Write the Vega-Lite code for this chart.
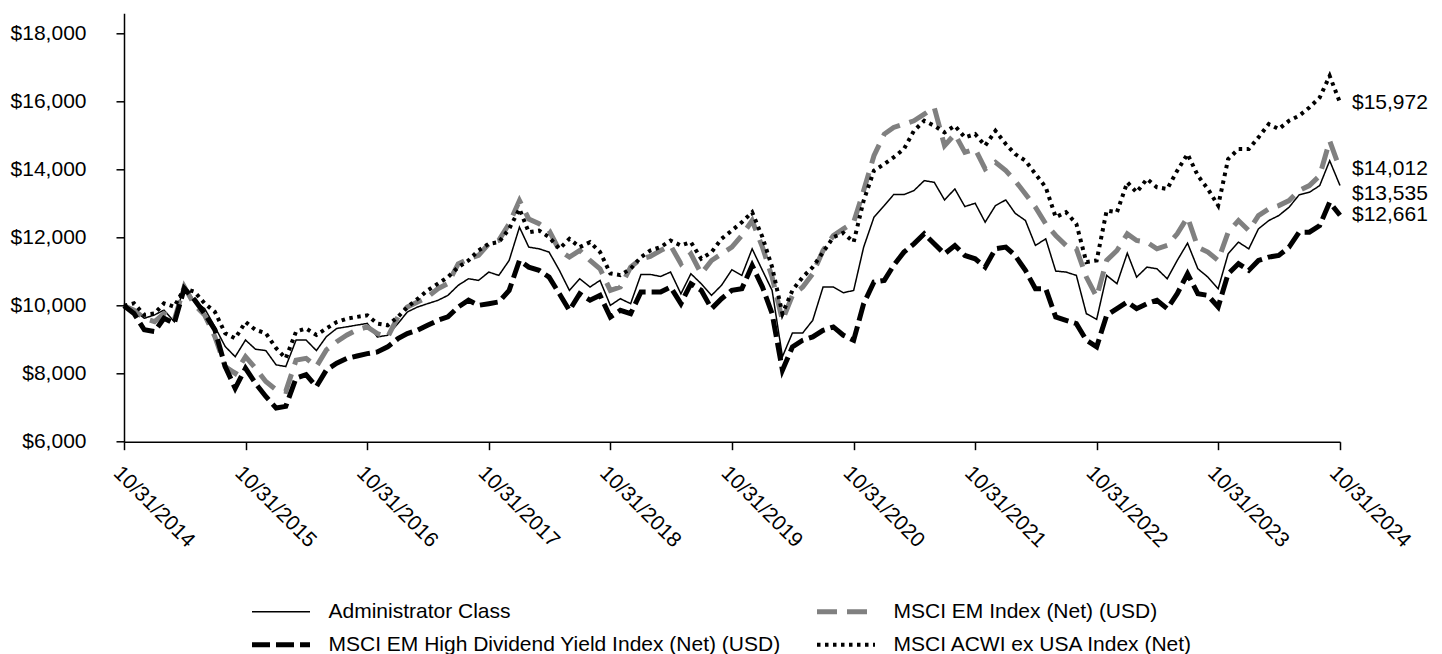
{
  "$schema": "https://vega.github.io/schema/vega-lite/v6.json",
  "width": 1216,
  "height": 428.4,
  "autosize": {"type": "none"},
  "padding": {"left": 124, "top": 13.3, "right": 102, "bottom": 212.3},
  "background": "white",
  "config": {"view": {"stroke": null}, "font": "Liberation Sans"},
  "data": {
    "format": {"parse": {"d": "utc:'%Y-%m-%d'"}},
    "values": [
      {"d":"2014-10-31","a":10000,"e":10000,"h":10000,"w":10000},
      {"d":"2014-11-30","a":9870,"e":9870,"h":9770,"w":10070},
      {"d":"2014-12-31","a":9630,"e":9630,"h":9290,"w":9730},
      {"d":"2015-01-31","a":9730,"e":9530,"h":9240,"w":9770},
      {"d":"2015-02-28","a":9870,"e":9770,"h":9630,"w":10070},
      {"d":"2015-03-31","a":9530,"e":9580,"h":9480,"w":9970},
      {"d":"2015-04-30","a":10610,"e":10560,"h":10510,"w":10510},
      {"d":"2015-05-31","a":10120,"e":10020,"h":10170,"w":10410},
      {"d":"2015-06-30","a":9920,"e":9730,"h":9770,"w":10070},
      {"d":"2015-07-31","a":9380,"e":9090,"h":9290,"w":9820},
      {"d":"2015-08-31","a":8800,"e":8210,"h":8210,"w":9190},
      {"d":"2015-09-30","a":8500,"e":8010,"h":7570,"w":9040},
      {"d":"2015-10-31","a":8990,"e":8500,"h":8160,"w":9520},
      {"d":"2015-11-30","a":8720,"e":8160,"h":7720,"w":9290},
      {"d":"2015-12-31","a":8680,"e":7770,"h":7330,"w":9190},
      {"d":"2016-01-31","a":8260,"e":7530,"h":6990,"w":8750},
      {"d":"2016-02-29","a":8210,"e":7480,"h":7040,"w":8450},
      {"d":"2016-03-31","a":8990,"e":8400,"h":7870,"w":9240},
      {"d":"2016-04-30","a":8990,"e":8450,"h":7970,"w":9330},
      {"d":"2016-05-31","a":8680,"e":8210,"h":7620,"w":9140},
      {"d":"2016-06-30","a":9090,"e":8700,"h":8110,"w":9330},
      {"d":"2016-07-31","a":9330,"e":8940,"h":8310,"w":9520},
      {"d":"2016-08-31","a":9380,"e":9140,"h":8450,"w":9620},
      {"d":"2016-09-30","a":9430,"e":9290,"h":8520,"w":9670},
      {"d":"2016-10-31","a":9480,"e":9375,"h":8590,"w":9717},
      {"d":"2016-11-30","a":9080,"e":9180,"h":8640,"w":9473},
      {"d":"2016-12-31","a":9130,"e":9080,"h":8790,"w":9424},
      {"d":"2017-01-31","a":9473,"e":9670,"h":9030,"w":9670},
      {"d":"2017-02-28","a":9815,"e":9960,"h":9180,"w":9960},
      {"d":"2017-03-31","a":9962,"e":10110,"h":9280,"w":10200},
      {"d":"2017-04-30","a":10060,"e":10255,"h":9424,"w":10450},
      {"d":"2017-05-31","a":10157,"e":10500,"h":9570,"w":10650},
      {"d":"2017-06-30","a":10304,"e":10650,"h":9670,"w":10840},
      {"d":"2017-07-31","a":10600,"e":11230,"h":9960,"w":11135},
      {"d":"2017-08-31","a":10793,"e":11380,"h":10160,"w":11330},
      {"d":"2017-09-30","a":10744,"e":11480,"h":10010,"w":11625},
      {"d":"2017-10-31","a":10989,"e":11820,"h":10060,"w":11820},
      {"d":"2017-11-30","a":10891,"e":11920,"h":10110,"w":11870},
      {"d":"2017-12-31","a":11331,"e":12410,"h":10450,"w":12260},
      {"d":"2018-01-31","a":12309,"e":13090,"h":11330,"w":12845},
      {"d":"2018-02-28","a":11722,"e":12550,"h":11135,"w":12160},
      {"d":"2018-03-31","a":11673,"e":12410,"h":11040,"w":12210},
      {"d":"2018-04-30","a":11576,"e":12210,"h":10840,"w":12015},
      {"d":"2018-05-31","a":11038,"e":11625,"h":10350,"w":11673},
      {"d":"2018-06-30","a":10451,"e":11430,"h":9860,"w":11967},
      {"d":"2018-07-31","a":10793,"e":11625,"h":10350,"w":11722},
      {"d":"2018-08-31","a":10549,"e":11330,"h":10160,"w":11870},
      {"d":"2018-09-30","a":10744,"e":11086,"h":10304,"w":11580},
      {"d":"2018-10-31","a":10010,"e":10451,"h":9668,"w":10950},
      {"d":"2018-11-30","a":10206,"e":10548,"h":9864,"w":10900},
      {"d":"2018-12-31","a":10060,"e":11135,"h":9766,"w":11086},
      {"d":"2019-01-31","a":10920,"e":11380,"h":10402,"w":11428},
      {"d":"2019-02-28","a":10920,"e":11448,"h":10402,"w":11624},
      {"d":"2019-03-31","a":10860,"e":11624,"h":10402,"w":11722},
      {"d":"2019-04-30","a":10990,"e":11771,"h":10548,"w":11918},
      {"d":"2019-05-31","a":10350,"e":11233,"h":10060,"w":11771},
      {"d":"2019-06-30","a":10940,"e":11526,"h":10646,"w":11869},
      {"d":"2019-07-31","a":10646,"e":10940,"h":10451,"w":11380},
      {"d":"2019-08-31","a":10304,"e":11330,"h":9913,"w":11575},
      {"d":"2019-09-30","a":10600,"e":11526,"h":10206,"w":11967},
      {"d":"2019-10-31","a":11057,"e":11722,"h":10451,"w":12211},
      {"d":"2019-11-30","a":10890,"e":12064,"h":10500,"w":12455},
      {"d":"2019-12-31","a":11673,"e":12504,"h":11184,"w":12749},
      {"d":"2020-01-31","a":11037,"e":11722,"h":10548,"w":12015},
      {"d":"2020-02-29","a":10450,"e":10842,"h":9766,"w":11135},
      {"d":"2020-03-31","a":8500,"e":9570,"h":8103,"w":9766},
      {"d":"2020-04-30","a":9199,"e":10304,"h":8788,"w":10451},
      {"d":"2020-05-31","a":9199,"e":10548,"h":8984,"w":10842},
      {"d":"2020-06-30","a":9570,"e":10940,"h":9081,"w":11135},
      {"d":"2020-07-31","a":10548,"e":11624,"h":9277,"w":11575},
      {"d":"2020-08-31","a":10548,"e":12064,"h":9375,"w":12015},
      {"d":"2020-09-30","a":10380,"e":12260,"h":9130,"w":12140},
      {"d":"2020-10-31","a":10450,"e":12456,"h":8984,"w":11870},
      {"d":"2020-11-30","a":11722,"e":13385,"h":10060,"w":13092},
      {"d":"2020-12-31","a":12603,"e":14412,"h":10696,"w":13972},
      {"d":"2021-01-31","a":12945,"e":15048,"h":10744,"w":14168},
      {"d":"2021-02-28","a":13268,"e":15243,"h":11184,"w":14363},
      {"d":"2021-03-31","a":13268,"e":15341,"h":11576,"w":14608},
      {"d":"2021-04-30","a":13385,"e":15439,"h":11820,"w":15145},
      {"d":"2021-05-31","a":13678,"e":15634,"h":12114,"w":15439},
      {"d":"2021-06-30","a":13630,"e":15830,"h":11820,"w":15292},
      {"d":"2021-07-31","a":13111,"e":14705,"h":11527,"w":15097},
      {"d":"2021-08-31","a":13434,"e":15048,"h":11771,"w":15292},
      {"d":"2021-09-30","a":12916,"e":14510,"h":11478,"w":14950},
      {"d":"2021-10-31","a":13013,"e":14607,"h":11380,"w":15048},
      {"d":"2021-11-30","a":12456,"e":14021,"h":11135,"w":14705},
      {"d":"2021-12-31","a":12945,"e":14217,"h":11673,"w":15145},
      {"d":"2022-01-31","a":13111,"e":13972,"h":11722,"w":14754},
      {"d":"2022-02-28","a":12720,"e":13678,"h":11478,"w":14460},
      {"d":"2022-03-31","a":12505,"e":13287,"h":11038,"w":14265},
      {"d":"2022-04-30","a":11771,"e":12896,"h":10500,"w":13874},
      {"d":"2022-05-31","a":11967,"e":12407,"h":10500,"w":13483},
      {"d":"2022-06-30","a":11018,"e":12065,"h":9668,"w":12603},
      {"d":"2022-07-31","a":10989,"e":11771,"h":9570,"w":12750},
      {"d":"2022-08-31","a":10891,"e":11674,"h":9473,"w":12407},
      {"d":"2022-09-30","a":9766,"e":10842,"h":8984,"w":11282},
      {"d":"2022-10-31","a":9600,"e":10255,"h":8788,"w":11331},
      {"d":"2022-11-30","a":10891,"e":11331,"h":9717,"w":12798},
      {"d":"2022-12-31","a":10647,"e":11624,"h":9913,"w":12750},
      {"d":"2023-01-31","a":11546,"e":12113,"h":10109,"w":13629},
      {"d":"2023-02-28","a":10842,"e":11918,"h":9913,"w":13336},
      {"d":"2023-03-31","a":11135,"e":11869,"h":10060,"w":13727},
      {"d":"2023-04-30","a":11086,"e":11673,"h":10157,"w":13483},
      {"d":"2023-05-31","a":10793,"e":11771,"h":9913,"w":13434},
      {"d":"2023-06-30","a":11331,"e":12113,"h":10353,"w":13972},
      {"d":"2023-07-31","a":11840,"e":12602,"h":10940,"w":14460},
      {"d":"2023-08-31","a":11086,"e":11722,"h":10353,"w":13825},
      {"d":"2023-09-30","a":10842,"e":11576,"h":10304,"w":13434},
      {"d":"2023-10-31","a":10500,"e":11331,"h":9962,"w":12945},
      {"d":"2023-11-30","a":11527,"e":12162,"h":10940,"w":14314},
      {"d":"2023-12-31","a":11869,"e":12504,"h":11233,"w":14607},
      {"d":"2024-01-31","a":11673,"e":12211,"h":11038,"w":14607},
      {"d":"2024-02-29","a":12260,"e":12651,"h":11331,"w":14950},
      {"d":"2024-03-31","a":12504,"e":12847,"h":11429,"w":15341},
      {"d":"2024-04-30","a":12651,"e":12945,"h":11478,"w":15194},
      {"d":"2024-05-31","a":12896,"e":13092,"h":11722,"w":15439},
      {"d":"2024-06-30","a":13258,"e":13385,"h":12162,"w":15585},
      {"d":"2024-07-31","a":13336,"e":13532,"h":12162,"w":15830},
      {"d":"2024-08-31","a":13532,"e":13825,"h":12358,"w":16123},
      {"d":"2024-09-30","a":14265,"e":14852,"h":13042,"w":16759},
      {"d":"2024-10-31","a":13535,"e":14012,"h":12661,"w":15972}
    ]
  },
  "transform": [{"fold": ["a", "e", "h", "w"], "as": ["series", "value"]}],
  "layer": [
    {
      "mark": {"type": "line", "strokeCap": "butt", "strokeJoin": "miter"},
      "encoding": {
        "x": {
          "field": "d", "type": "temporal",
          "scale": {"type": "utc", "domain": [{"year": 2014, "month": 10, "date": 31, "utc": true}, {"year": 2024, "month": 10, "date": 31, "utc": true}]},
          "axis": {
            "title": null,
            "values": [
              {"year": 2014, "month": 10, "date": 31, "utc": true},
              {"year": 2015, "month": 10, "date": 31, "utc": true},
              {"year": 2016, "month": 10, "date": 31, "utc": true},
              {"year": 2017, "month": 10, "date": 31, "utc": true},
              {"year": 2018, "month": 10, "date": 31, "utc": true},
              {"year": 2019, "month": 10, "date": 31, "utc": true},
              {"year": 2020, "month": 10, "date": 31, "utc": true},
              {"year": 2021, "month": 10, "date": 31, "utc": true},
              {"year": 2022, "month": 10, "date": 31, "utc": true},
              {"year": 2023, "month": 10, "date": 31, "utc": true},
              {"year": 2024, "month": 10, "date": 31, "utc": true}
            ],
            "labelExpr": "utcFormat(datum.value, '%m/%d/%Y')",
            "labelAngle": 45, "labelAlign": "left", "labelBaseline": "top",
            "labelFontSize": 21, "labelFont": "Liberation Sans", "labelColor": "black",
            "labelPadding": 12, "labelFlush": false, "labelOverlap": false, "labelBound": false,
            "tickSize": 8, "tickColor": "black", "tickWidth": 1.5,
            "domainColor": "black", "domainWidth": 1.5, "grid": false
          }
        },
        "y": {
          "field": "value", "type": "quantitative",
          "scale": {"domain": [6000, 18600], "nice": false, "zero": false},
          "axis": {
            "title": null,
            "values": [6000, 8000, 10000, 12000, 14000, 16000, 18000],
            "format": "$,.0f",
            "labelFontSize": 21, "labelFont": "Liberation Sans", "labelColor": "black",
            "labelPadding": 30,
            "tickSize": 8, "tickColor": "black", "tickWidth": 1.5,
            "domainColor": "black", "domainWidth": 1.5, "grid": false
          }
        },
        "color": {
          "field": "series", "type": "nominal",
          "scale": {"domain": ["a", "e", "h", "w"], "range": ["#000000", "#808080", "#000000", "#000000"]},
          "legend": {
            "orient": "none", "legendX": 128, "legendY": 588, "columns": 2, "direction": "horizontal", "title": null,
            "symbolType": "stroke", "symbolSize": 3364, "clipHeight": 21, "symbolOffset": 18.5,
            "labelFontSize": 21, "labelFont": "Liberation Sans", "labelColor": "black", "labelLimit": 0,
            "labelOffset": 37, "columnPadding": 36, "rowPadding": 11, "padding": 0,
            "labelExpr": "datum.label == 'a' ? 'Administrator Class' : datum.label == 'e' ? 'MSCI EM Index (Net) (USD)' : datum.label == 'h' ? 'MSCI EM High Dividend Yield Index (Net) (USD)' : 'MSCI ACWI ex USA Index (Net)'",
            "encode": {"symbols": {"update": {"strokeWidth": {"signal": "datum.value == 'a' ? 1.5 : datum.value == 'w' ? 4 : 5"}}}}
          }
        },
        "strokeDash": {
          "field": "series", "type": "nominal",
          "scale": {"domain": ["a", "e", "h", "w"], "range": [[1, 0], [20, 10], [18, 6], [3.5, 4.5]]},
          "legend": {
            "orient": "none", "legendX": 128, "legendY": 588, "columns": 2, "direction": "horizontal", "title": null,
            "symbolType": "stroke", "symbolSize": 3364, "clipHeight": 21, "symbolOffset": 18.5,
            "labelFontSize": 21, "labelFont": "Liberation Sans", "labelColor": "black", "labelLimit": 0,
            "labelOffset": 37, "columnPadding": 36, "rowPadding": 11, "padding": 0,
            "labelExpr": "datum.label == 'a' ? 'Administrator Class' : datum.label == 'e' ? 'MSCI EM Index (Net) (USD)' : datum.label == 'h' ? 'MSCI EM High Dividend Yield Index (Net) (USD)' : 'MSCI ACWI ex USA Index (Net)'",
            "encode": {"symbols": {"update": {"strokeWidth": {"signal": "datum.value == 'a' ? 1.5 : datum.value == 'w' ? 4 : 5"}}}}
          }
        },
        "strokeWidth": {
          "condition": [
            {"test": "datum.series === 'a'", "value": 1.5},
            {"test": "datum.series === 'w'", "value": 4}
          ],
          "value": 5
        }
      }
    },
    {
      "transform": [
        {"filter": "utcyear(datum.d) == 2024 && utcmonth(datum.d) == 9 && datum.series !== 'a'"}
      ],
      "mark": {"type": "text", "align": "left", "baseline": "middle", "dx": 12, "fontSize": 21, "font": "Liberation Sans", "color": "black"},
      "encoding": {
        "x": {"field": "d", "type": "temporal"},
        "y": {"field": "value", "type": "quantitative"},
        "text": {"field": "value", "type": "quantitative", "format": "$,.0f"}
      }
    },
    {
      "transform": [
        {"filter": "utcyear(datum.d) == 2024 && utcmonth(datum.d) == 9 && datum.series === 'a'"}
      ],
      "mark": {"type": "text", "align": "left", "baseline": "middle", "dx": 12, "dy": 8, "fontSize": 21, "font": "Liberation Sans", "color": "black"},
      "encoding": {
        "x": {"field": "d", "type": "temporal"},
        "y": {"field": "value", "type": "quantitative"},
        "text": {"field": "value", "type": "quantitative", "format": "$,.0f"}
      }
    }
  ]
}
